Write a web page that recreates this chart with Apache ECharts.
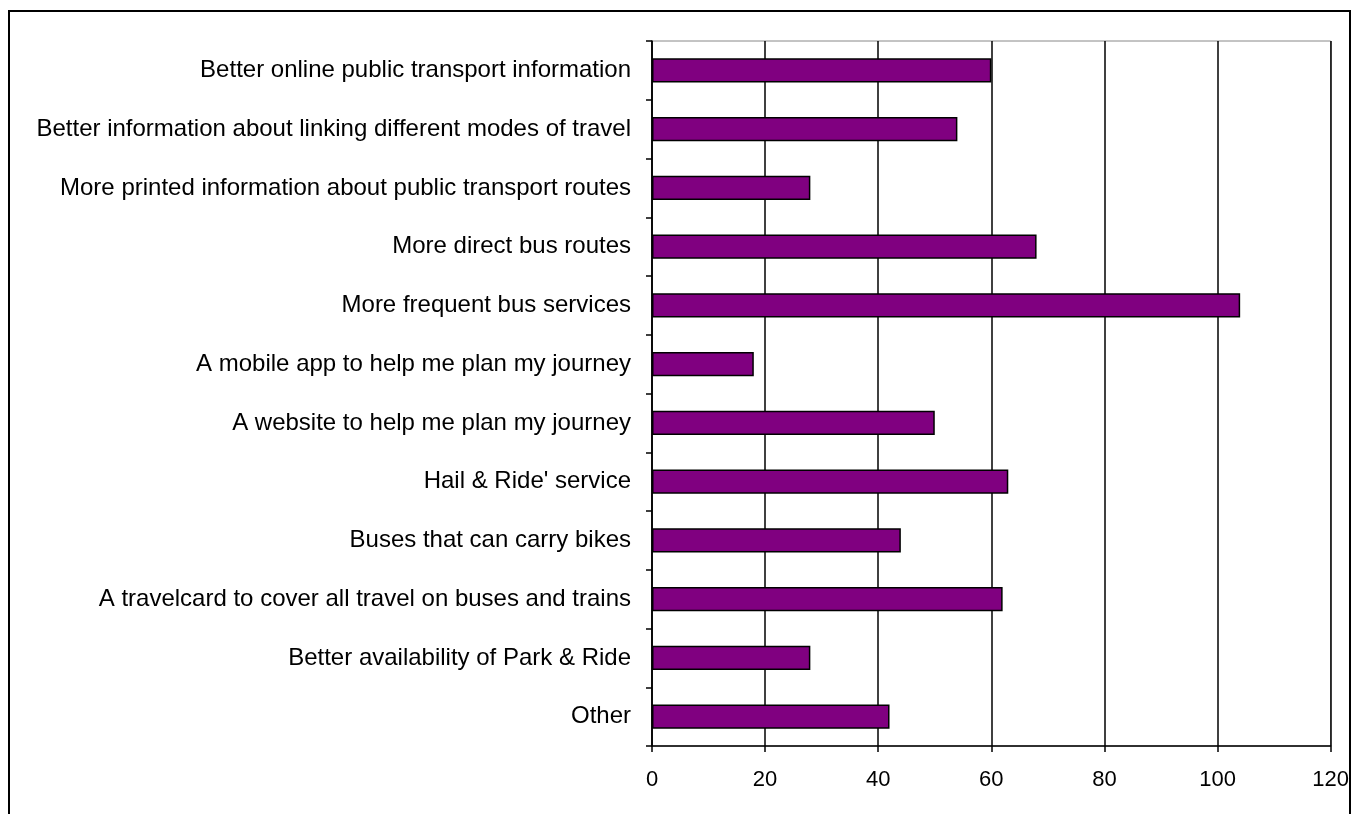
<!DOCTYPE html>
<html>
<head>
<meta charset="utf-8">
<script src="https://cdn.jsdelivr.net/npm/echarts@6/dist/echarts.min.js"></script>
<style>
  html, body { margin: 0; padding: 0; background: #fff; }
  #chart { width: 1352px; height: 814px; }
</style>
</head>
<body>
<div id="chart"></div>
<script>
// categories top to bottom
const categories = [
  'Better online public transport information',
  'Better information about linking different modes of travel',
  'More printed information about public transport routes',
  'More direct bus routes',
  'More frequent bus services',
  'A mobile app to help me plan my journey',
  'A website to help me plan my journey',
  "Hail & Ride' service",
  'Buses that can carry bikes',
  'A travelcard to cover all travel on buses and trains',
  'Better availability of Park & Ride',
  'Other'
];
const values = [60, 54, 28, 68, 104, 18, 50, 63, 44, 62, 28, 42];
const xTicks = [0, 20, 40, 60, 80, 100, 120];

const chart = echarts.init(document.getElementById('chart'));

const option = {
  backgroundColor: '#fff',
  animation: false,
  textStyle: { fontFamily: 'Liberation Sans, Arial, sans-serif' },
  graphic: [{
    type: 'rect',
    shape: { x: 9, y: 11, width: 1341, height: 900 },
    style: { fill: 'none', stroke: '#000', lineWidth: 2 },
    silent: true,
    z: 100
  }],
  grid: {
    left: 652,
    right: 21,
    top: 41,
    bottom: 68,
    show: true,
    borderColor: '#888',
    borderWidth: 1,
    backgroundColor: 'transparent'
  },
  xAxis: {
    type: 'value',
    min: xTicks[0],
    max: xTicks[xTicks.length - 1],
    interval: 20,
    axisLine: { show: true, lineStyle: { color: '#000', width: 1.5 } },
    axisTick: { show: true, length: 6, lineStyle: { color: '#000', width: 1.5 } },
    splitLine: { show: true, lineStyle: { color: '#000', width: 1.5 } },
    axisLabel: { color: '#000', fontSize: 22, margin: 23 }
  },
  yAxis: {
    type: 'category',
    data: categories,
    inverse: true,
    axisLine: { show: true, lineStyle: { color: '#000', width: 1.5 } },
    axisTick: { show: true, length: 6, lineStyle: { color: '#000', width: 1.5 } },
    splitLine: { show: false },
    axisLabel: { color: '#000', fontSize: 24, margin: 21 }
  },
  series: [{
    type: 'bar',
    data: values,
    barWidth: '41%',
    itemStyle: { color: '#800080', borderColor: '#000', borderWidth: 1.5 }
  }]
};

chart.setOption(option);
</script>
</body>
</html>
